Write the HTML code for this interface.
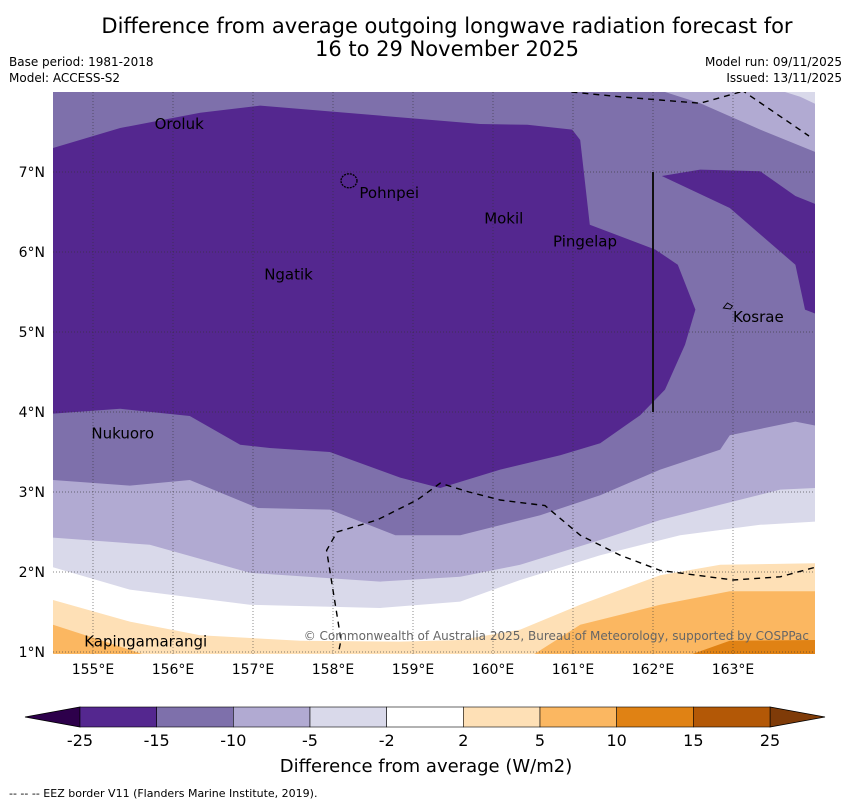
<!DOCTYPE html>
<html><head><meta charset="utf-8">
<style>
body{margin:0;background:#fff;}
svg{display:block;font-family:"DejaVu Sans","Liberation Sans",sans-serif;}
</style></head>
<body>
<svg id="chart" width="850" height="804" viewBox="0 0 850 804" xmlns="http://www.w3.org/2000/svg">
<text x="447" y="33" font-size="21" text-anchor="middle">Difference from average outgoing longwave radiation forecast for</text>
<text x="447" y="56" font-size="21" text-anchor="middle">16 to 29 November 2025</text>
<text x="9" y="66" font-size="12">Base period: 1981-2018</text>
<text x="9" y="82" font-size="12">Model: ACCESS-S2</text>
<text x="842" y="66" font-size="12" text-anchor="end">Model run: 09/11/2025</text>
<text x="842" y="82" font-size="12" text-anchor="end">Issued: 13/11/2025</text>
<defs><clipPath id="mapclip"><rect x="53" y="92" width="762" height="562"/></clipPath></defs>
<g id="map" clip-path="url(#mapclip)"></g>
<g id="axes"></g>
<g id="cbar"></g>
<text x="426" y="772" font-size="18" text-anchor="middle">Difference from average (W/m2)</text>
<text x="9" y="797" font-size="11">--  --  -- EEZ border V11 (Flanders Marine Institute, 2019).</text>
</svg>
<script>
const lonTicks=[155,156,157,158,159,160,161,162,163];
const latTicks=[1,2,3,4,5,6,7];
const levelLabels=["-25","-15","-10","-5","-2","2","5","10","15","25"];
const levelColors=["#54278f","#7e70ab","#b1aad2","#d9d9ea","#ffffff","#fee0b6","#fbb761","#e08214","#b35806"];
const contourM2=[[154.5,2.06],[155.46,1.78],[156.96,1.59],[158.59,1.55],[159.59,1.63],[160.34,1.9],[161.34,2.21],[162.34,2.46],[163.34,2.59],[164.03,2.63]];
const contourM5=[[154.5,2.43],[155.71,2.34],[156.96,1.99],[158.59,1.88],[159.59,1.94],[160.34,2.09],[161.34,2.4],[162.09,2.65],[162.84,2.84],[163.59,3.03],[164.03,3.05]];
const contourM10=[[154.5,3.15],[155.46,3.08],[156.21,3.15],[157.06,2.8],[157.96,2.78],[158.78,2.46],[159.59,2.46],[160.59,2.71],[161.34,2.96],[162.09,3.28],[162.84,3.53],[162.96,3.71],[163.78,3.88],[164.03,3.83]];
const regionM15=[[154.5,3.98],[155.34,4.04],[156.21,3.95],[156.84,3.59],[157.21,3.55],[157.96,3.5],[158.84,3.18],[159.34,3.05],[160.09,3.28],[160.84,3.46],[161.34,3.61],[161.84,3.96],[162.15,4.28],[162.4,4.84],[162.53,5.28],[162.31,5.84],[162.03,6.03],[161.21,6.34],[161.09,7.4],[160.99,7.53],[160.43,7.59],[159.84,7.6],[157.09,7.83],[156.34,7.74],[155.34,7.55],[154.5,7.3]];
const regionM15b=[[162.11,6.95],[162.59,7.03],[163.34,7.01],[163.78,6.7],[164.03,6.6],[164.03,5.23],[163.9,5.28],[163.78,5.84],[162.96,6.55]];
const regionTopM10=[[162.15,8],[162.59,7.86],[163.34,7.53],[164.03,7.25],[164.03,8]];
const regionTopM5=[[163.65,8],[163.84,7.94],[164.03,7.85],[164.03,8]];
const contourP2=[[154.5,1.65],[155.46,1.38],[156.34,1.21],[157.59,1.14],[158.84,1.13],[159.59,1.15],[160.34,1.28],[161.09,1.59],[162.09,1.96],[162.84,2.09],[164.03,2.11]];
const contourP5a=[[154.5,1.34],[155.09,1.15],[155.84,0.9]];
const contourP5b=[[160.4,0.9],[161.09,1.34],[162.09,1.59],[162.96,1.76],[164.03,1.76]];
const contourP10=[[162.28,0.9],[162.96,1.14],[164.03,1.15]];
const eezSouth=[[158.05,0.9],[158.1,1.15],[157.92,2.27],[158.05,2.5],[158.55,2.65],[159.05,2.9],[159.34,3.11],[159.7,3.0],[160.09,2.9],[160.65,2.83],[161.09,2.46],[161.59,2.21],[162.09,2.02],[163.0,1.9],[163.59,1.94],[164.03,2.06]];
const eezNorth=[[160.98,8.0],[161.59,7.94],[162.09,7.9],[162.59,7.86],[163.2,8.03]];
const eezNE=[[163.1,8.03],[163.95,7.45]];
const islands=[["Oroluk",155.77,7.6],["Pohnpei",158.33,6.74],["Mokil",159.89,6.42],["Pingelap",160.75,6.13],["Ngatik",157.14,5.72],["Kosrae",163.0,5.19],["Nukuoro",154.98,3.73],["Kapingamarangi",154.89,1.13]];
const x0=53,x1=815,lonMin=154.5,lonMax=164.025,y0=92,y1=654,latMax=8,latMin=0.975;
const X=lon=>x0+(lon-lonMin)/(lonMax-lonMin)*(x1-x0);
const Y=lat=>y0+(latMax-lat)/(latMax-latMin)*(y1-y0);
const NS="http://www.w3.org/2000/svg";
const map=document.getElementById('map'),axes=document.getElementById('axes'),cb=document.getElementById('cbar');
function mk(tag,attrs,parent){const e=document.createElementNS(NS,tag);for(const k in attrs)e.setAttribute(k,attrs[k]);parent.appendChild(e);return e;}
const pts=a=>a.map(p=>X(p[0]).toFixed(1)+','+Y(p[1]).toFixed(1)).join(' ');
function above(line){return pts([[lonMin,latMax+0.2],...line,[lonMax+0.2,line[line.length-1][1]],[lonMax+0.2,latMax+0.2]]);}
function below(line){return pts([[line[0][0]-0.01,latMin-0.2],...line,[lonMax+0.2,line[line.length-1][1]],[lonMax+0.2,latMin-0.2]]);}
let r=mk('rect',{x:x0,y:y0,width:x1-x0,height:y1-y0,fill:'#fff'},map);


function poly(p,fill,name){const e=mk('polygon',{points:p,fill:fill},map);

}
poly(above(contourM2),levelColors[3],'band-minus2-to-minus5');
poly(above(contourM5),levelColors[2],'band-minus5-to-minus10');
poly(above(contourM10),levelColors[1],'band-minus10-to-minus15');
poly(pts(regionM15),levelColors[0],'band-below-minus15');
poly(pts(regionM15b),levelColors[0],'band-below-minus15-east');
poly(pts(regionTopM10),levelColors[2],'band-minus5-to-minus10-ne');
poly(pts(regionTopM5),levelColors[3],'band-minus2-to-minus5-ne');
poly(below(contourP2),levelColors[5],'band-2-to-5');
poly(below(contourP5a),levelColors[6],'band-5-to-10-west');
poly(below(contourP5b),levelColors[6],'band-5-to-10-east');
poly(below(contourP10),levelColors[7],'band-10-to-15');
lonTicks.forEach(l=>{let g=mk('line',{x1:X(l),x2:X(l),y1:y0,y2:y1,stroke:'#333','stroke-width':0.7,'stroke-dasharray':'1,2',opacity:0.8},map);


let t=mk('text',{x:X(l),y:y1+20,'font-size':14,'text-anchor':'middle'},axes);t.textContent=l+'°E';

});
latTicks.forEach(l=>{let g=mk('line',{x1:x0,x2:x1,y1:Y(l),y2:Y(l),stroke:'#333','stroke-width':0.7,'stroke-dasharray':'1,2',opacity:0.8},map);


let t=mk('text',{x:x0-8,y:Y(l)+5,'font-size':14,'text-anchor':'end'},axes);t.textContent=l+'°N';

});
[eezSouth,eezNorth,eezNE].forEach(a=>{let e=mk('polyline',{points:pts(a),fill:'none',stroke:'#000','stroke-width':1.4,'stroke-dasharray':'6,5'},map);

});
let v=mk('line',{x1:X(162),x2:X(162),y1:Y(7),y2:Y(4),stroke:'#111','stroke-width':2},map);


let pp=mk('ellipse',{cx:X(158.2),cy:Y(6.89),rx:8,ry:7,fill:'none',stroke:'#000','stroke-width':1.3,'stroke-dasharray':'2,1'},map);


let ko=mk('path',{d:`M${X(162.88)},${Y(5.3)} l4,-5 l5,3 l-2,3 z`,fill:'none',stroke:'#000','stroke-width':1},map);


islands.forEach(i=>{let t=mk('text',{x:X(i[1]),y:Y(i[2])+5,'font-size':15,fill:'#000'},map);t.textContent=i[0];

});
let cp=mk('text',{x:809,y:640,'font-size':12,fill:'#666','text-anchor':'end'},map);cp.textContent='© Commonwealth of Australia 2025, Bureau of Meteorology, supported by COSPPac';


const cbx0=80,cbx1=770,cy0=707,cy1=727,w=(cbx1-cbx0)/levelColors.length;
let lt=mk('polygon',{points:`${cbx0},${cy0} ${cbx0},${cy1} 25,717`,fill:'#2d004b',stroke:'#000','stroke-width':0.8},cb);


let rt=mk('polygon',{points:`${cbx1},${cy0} ${cbx1},${cy1} 825,717`,fill:'#7f3b08',stroke:'#000','stroke-width':0.8},cb);


levelColors.forEach((c,i)=>{let s=mk('rect',{x:cbx0+i*w,y:cy0,width:w,height:cy1-cy0,fill:c,stroke:'#000','stroke-width':0.6},cb);

});
levelLabels.forEach((l,i)=>{let t=mk('text',{x:cbx0+i*w,y:746,'font-size':16,'text-anchor':'middle'},cb);t.textContent=l;

});
</script>
</body></html>
